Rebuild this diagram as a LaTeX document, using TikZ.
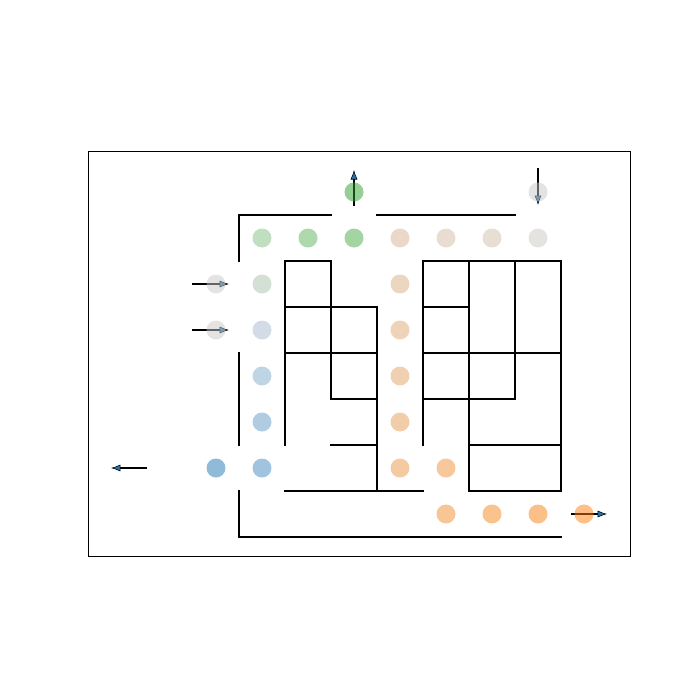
\documentclass[tikz,border=0pt]{standalone}
\usetikzlibrary{arrows.meta}
\definecolor{tabblue}{HTML}{1F77B4}
\definecolor{cA}{RGB}{44,160,44}
\definecolor{cB}{RGB}{71,171,71}
\definecolor{cC}{RGB}{91,179,91}
\definecolor{cD}{RGB}{129,191,129}
\definecolor{cE}{RGB}{167,193,167}
\definecolor{cF}{RGB}{167,185,205}
\definecolor{cG}{RGB}{129,171,201}
\definecolor{cH}{RGB}{97,153,197}
\definecolor{cI}{RGB}{65,137,191}
\definecolor{cJ}{RGB}{31,119,180}
\definecolor{cK}{RGB}{199,199,199}
\definecolor{cL}{RGB}{203,199,193}
\definecolor{cM}{RGB}{207,189,169}
\definecolor{cN}{RGB}{211,185,161}
\definecolor{cO}{RGB}{215,177,145}
\definecolor{cP}{RGB}{219,173,129}
\definecolor{cQ}{RGB}{223,167,113}
\definecolor{cR}{RGB}{225,161,101}
\definecolor{cS}{RGB}{229,155,83}
\definecolor{cT}{RGB}{233,149,69}
\definecolor{cU}{RGB}{237,145,57}
\definecolor{cV}{RGB}{241,141,45}
\definecolor{cW}{RGB}{245,135,29}
\definecolor{cX}{RGB}{247,129,17}
\definecolor{cY}{RGB}{255,127,14}
\tikzset{
  wall/.style={line width=1.15pt, line cap=rect},
  dot/.style={circle, inner sep=0pt, minimum size=0.38cm, fill=#1, fill opacity=0.5, draw=none},
  mv/.style={line width=0.85pt, -{Latex[length=1.9mm,width=1.4mm,fill=tabblue,line width=0.35pt]}, draw=black}
}
\begin{document}
\begin{tikzpicture}[x=0.02cm,y=-0.02cm]
\useasboundingbox (0,0) rectangle (700,700);
% frame
\draw[line width=0.55pt] (88,151) rectangle (630,556);
% walls
\draw[wall] (239,215) -- (331,215);
\draw[wall] (377,215) -- (515,215);
\draw[wall] (285,261) -- (331,261);
\draw[wall] (423,261) -- (561,261);
\draw[wall] (285,307) -- (377,307);
\draw[wall] (423,307) -- (469,307);
\draw[wall] (285,353) -- (377,353);
\draw[wall] (423,353) -- (561,353);
\draw[wall] (331,399) -- (377,399);
\draw[wall] (423,399) -- (515,399);
\draw[wall] (331,445) -- (377,445);
\draw[wall] (469,445) -- (561,445);
\draw[wall] (285,491) -- (423,491);
\draw[wall] (469,491) -- (561,491);
\draw[wall] (239,537) -- (561,537);
\draw[wall] (239,215) -- (239,261);
\draw[wall] (239,353) -- (239,445);
\draw[wall] (239,491) -- (239,537);
\draw[wall] (285,261) -- (285,445);
\draw[wall] (331,261) -- (331,399);
\draw[wall] (377,307) -- (377,491);
\draw[wall] (423,261) -- (423,445);
\draw[wall] (469,261) -- (469,491);
\draw[wall] (515,261) -- (515,399);
\draw[wall] (561,261) -- (561,491);
% arrows
\coordinate (u1) at (354,206); \coordinate (u2) at (354,170);
\coordinate (d1) at (538,168); \coordinate (d2) at (538,205);
\coordinate (r1) at (192,284); \coordinate (r2) at (229,284);
\coordinate (s1) at (192,330); \coordinate (s2) at (229,330);
\coordinate (l1) at (147,468); \coordinate (l2) at (111,468);
\coordinate (e1) at (571,514); \coordinate (e2) at (607,514);
\draw[mv] (u1) -- (u2);
\draw[mv] (d1) -- (d2);
\draw[mv] (r1) -- (r2);
\draw[mv] (s1) -- (s2);
\draw[mv] (l1) -- (l2);
\draw[mv] (e1) -- (e2);
% dots
\foreach \n/\x/\y/\c in {
  a0/354/192/cA, a1/538/192/cK,
  b1/262/238/cD, b2/308/238/cC, b3/354/238/cB, b4/400/238/cO, b5/446/238/cN, b6/492/238/cM, b7/538/238/cL,
  c0/216/284/cK, c1/262/284/cE, c2/400/284/cP,
  d0/216/330/cK, d1/262/330/cF, d2/400/330/cQ,
  e1/262/376/cG, e2/400/376/cR,
  f1/262/422/cH, f2/400/422/cS,
  g0/216/468/cJ, g1/262/468/cI, g2/400/468/cT, g3/446/468/cU,
  h1/446/514/cV, h2/492/514/cW, h3/538/514/cX, h4/584/514/cY}
  \node[dot=\c] (n\n) at (\x,\y) {};
\end{tikzpicture}
\end{document}
